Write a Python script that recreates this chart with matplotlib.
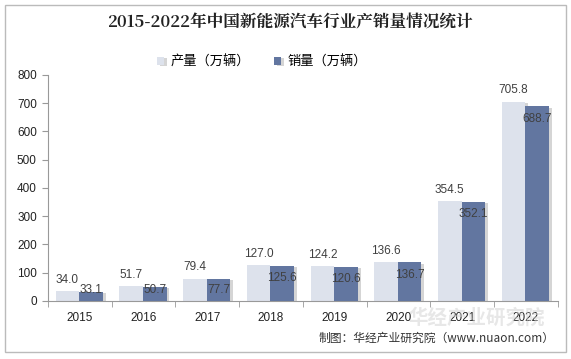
import matplotlib.pyplot as plt
import matplotlib.patheffects as pe
from matplotlib.patches import Rectangle
import numpy as np

plt.rcParams['font.family'] = ['Liberation Sans', 'Noto Sans CJK SC', 'DejaVu Sans']

years = ['2015', '2016', '2017', '2018', '2019', '2020', '2021', '2022']
production = [34.0, 51.7, 79.4, 127.0, 124.2, 136.6, 354.5, 705.8]
sales = [33.1, 50.7, 77.7, 125.6, 120.6, 136.7, 352.1, 688.7]

light = '#dde2ec'
dark = '#6276a0'
text_col = '#404040'

fig = plt.figure(figsize=(5.71, 3.59), dpi=100)
ax = fig.add_axes([0.084, 0.1616, 0.893, 0.6295])

x = np.arange(len(years))
w = 0.37
shadow = [pe.SimplePatchShadow(offset=(2, -1), shadow_rgbFace='#888888', alpha=0.35), pe.Normal()]
b1 = ax.bar(x - w / 2 - 0.01, production, w, color=light, label='产量（万辆）', zorder=2)
b2 = ax.bar(x + w / 2 - 0.01, sales, w, color=dark, label='销量（万辆）', zorder=3)
for p in list(b1) + list(b2):
    p.set_path_effects(shadow)

for xi, v in zip(x, production):
    ax.text(xi - w / 2 - 0.01, v + 40, f'{v:.1f}', ha='center', va='center',
            fontsize=8.5, color=text_col, zorder=5)
for xi, v in zip(x, sales):
    ax.text(xi + w / 2 - 0.01, max(v - 44, 38), f'{v:.1f}', ha='center', va='center',
            fontsize=8.5, color=text_col, zorder=5)

ax.set_xlim(-0.5, len(years) - 0.5)
ax.set_ylim(0, 800)
ax.set_yticks(range(0, 801, 100))
ax.set_xticks(x)
ax.set_xticklabels(years)
ax.set_xticks(np.arange(-0.5, len(years)), minor=True)
ax.tick_params(axis='x', which='major', length=0, pad=8, labelsize=8.5, labelcolor='#222222')
ax.tick_params(axis='x', which='minor', length=4, color='#999999')
ax.tick_params(axis='y', length=4, color='#999999', labelsize=8.5, labelcolor='#222222', pad=4)
for s in ['top', 'right']:
    ax.spines[s].set_visible(False)
for s in ['left', 'bottom']:
    ax.spines[s].set_color('#999999')
    ax.spines[s].set_linewidth(0.8)

fig.text(0.508, 0.937, '2015-2022年中国新能源汽车行业产销量情况统计', ha='center', va='center',
         fontsize=12, fontweight='bold', family=['Noto Serif CJK SC', 'Noto Sans CJK SC'], color='#222222')

ax.legend(loc='center', bbox_to_anchor=(0.42, 1.058), ncol=2, frameon=False,
          handlelength=0.55, handleheight=0.55, handletextpad=0.5, columnspacing=1.8,
          prop={'family': ['Noto Sans CJK SC'], 'size': 9.5})

# watermark
fig.text(0.955, 0.113, '华经产业研究院', ha='right', va='center', fontsize=14, fontweight='bold',
         family=['Noto Sans CJK SC'], color='#d0d0d0', alpha=0.5, zorder=10)
fig.text(0.972, 0.058, '制图：华经产业研究院（www.nuaon.com）', ha='right', va='center', fontsize=8.5,
         family=['Noto Sans CJK SC'], color='#333333')

fig.patches.append(Rectangle((0.009, 0.02), 0.982, 0.965, transform=fig.transFigure,
                             fill=False, edgecolor='#bbbbbb', linewidth=1))

fig.savefig('out.png', dpi=100)
